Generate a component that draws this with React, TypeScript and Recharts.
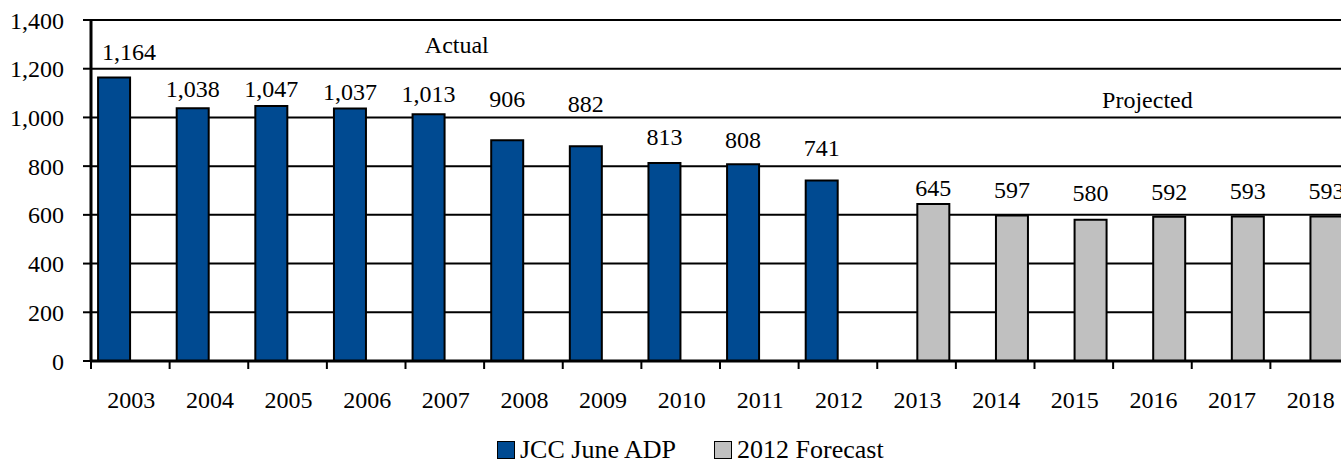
import { Bar, BarChart, CartesianGrid, LabelList, ReferenceDot, XAxis, YAxis } from "recharts"

const years = ["2003", "2004", "2005", "2006", "2007", "2008", "2009", "2010", "2011", "2012", "2013", "2014", "2015", "2016", "2017", "2018"]
const juneAdp = [1164, 1038, 1047, 1037, 1013, 906, 882, 813, 808, 741, null, null, null, null, null, null]
const forecast2012 = [null, null, null, null, null, null, null, null, null, null, 645, 597, 580, 592, 593, 593]
const yTicks = [0, 200, 400, 600, 800, 1000, 1200, 1400]

// label nudges (px above bar top) per year, the source chart had them hand-placed
const labelLift: Record<string, number> = {
  "2003": 25, "2004": 19, "2005": 17, "2006": 16, "2007": 20, "2008": 41, "2009": 42, "2010": 26,
  "2011": 24, "2012": 33, "2013": 16, "2014": 26, "2015": 27, "2016": 25, "2017": 26, "2018": 26,
}

const BLUE = "#004A91"
const GREY = "#C0C0C0"
const FONT = '"Liberation Serif", serif'

const W = 1360
const H = 467
const AXIS_W = 91
const MARGIN = { top: 20, right: 11, left: 0, bottom: 0 }
const STEP = (W - AXIS_W - MARGIN.right) / years.length

const data = years.map((year, i) => ({ year, adp: juneAdp[i], forecast: forecast2012[i] }))

const fmt = (v: number) => v.toLocaleString("en-US")

function YearTick({ x, y, payload }: any) {
  const edge = x - STEP / 2
  return (
    <g>
      <line x1={edge} x2={edge} y1={y} y2={y + 8} stroke="#000" strokeWidth={2} />
      <text x={x + 1} y={y + 39} textAnchor="middle" dominantBaseline="central" fontSize={24} fontFamily={FONT} fill="#000">
        {payload.value}
      </text>
    </g>
  )
}

function valueLabel(series: (number | null)[]) {
  return ({ x, y, width, value }: any) => {
    if (value == null) return null
    const year = years[series.indexOf(Number(value))] ?? ""
    const dx = year === "2003" ? 15 : 0
    return (
      <text
        x={Number(x) + Number(width) / 2 + dx}
        y={Number(y) - (labelLift[year] ?? 22)}
        textAnchor="middle"
        dominantBaseline="central"
        fontSize={24}
        fontFamily={FONT}
        fill="#000"
      >
        {fmt(Number(value))}
      </text>
    )
  }
}

function Note({ text, dx }: { text: string; dx: number }) {
  return ({ cx, cy }: any) => (
    <text x={cx + dx} y={cy} textAnchor="middle" dominantBaseline="central" fontSize={24} fontFamily={FONT} fill="#000">
      {text}
    </text>
  )
}

function Swatch({ color }: { color: string }) {
  return (
    <span
      style={{
        display: "inline-block",
        width: 16,
        height: 16,
        background: color,
        border: "1.5px solid #000",
        marginRight: 5,
      }}
    />
  )
}

export default function App() {
  return (
    <div style={{ position: "absolute", left: 0, top: 0, width: 1341, height: H, overflow: "hidden", background: "#fff", fontFamily: FONT }}>
      <BarChart width={W} height={H} data={data} margin={MARGIN} barCategoryGap="9%" barGap={1}>
        <CartesianGrid vertical={false} stroke="#000" strokeWidth={2} />
        <XAxis
          dataKey="year"
          height={H - MARGIN.top - 341}
          interval={0}
          tickLine={false}
          tickSize={0}
          tickMargin={0}
          axisLine={{ stroke: "#000", strokeWidth: 3 }}
          tick={<YearTick />}
        />
        <YAxis
          width={AXIS_W}
          domain={[0, 1400]}
          ticks={yTicks}
          tickFormatter={fmt}
          tickSize={8}
          tickMargin={19}
          axisLine={{ stroke: "#000", strokeWidth: 3 }}
          tickLine={{ stroke: "#000", strokeWidth: 2 }}
          tick={{ fill: "#000", fontSize: 24, fontFamily: FONT }}
        />
        <Bar dataKey="adp" name="JCC June ADP" fill={BLUE} stroke="#000" strokeWidth={2} isAnimationActive={false}>
          <LabelList dataKey="adp" content={valueLabel(juneAdp)} />
        </Bar>
        <Bar dataKey="forecast" name="2012 Forecast" fill={GREY} stroke="#000" strokeWidth={2} isAnimationActive={false}>
          <LabelList dataKey="forecast" content={valueLabel(forecast2012)} />
        </Bar>
        <ReferenceDot x="2007" y={1297} r={0} shape={Note({ text: "Actual", dx: 12 })} />
        <ReferenceDot x="2016" y={1071} r={0} shape={Note({ text: "Projected", dx: -5 })} />
      </BarChart>
      <div style={{ position: "absolute", top: 436, left: 497, display: "flex", alignItems: "center", fontSize: 26, lineHeight: "28px", color: "#000" }}>
        <Swatch color={BLUE} />
        <span>JCC June ADP</span>
        <span style={{ width: 38 }} />
        <Swatch color={GREY} />
        <span>2012 Forecast</span>
      </div>
    </div>
  )
}
